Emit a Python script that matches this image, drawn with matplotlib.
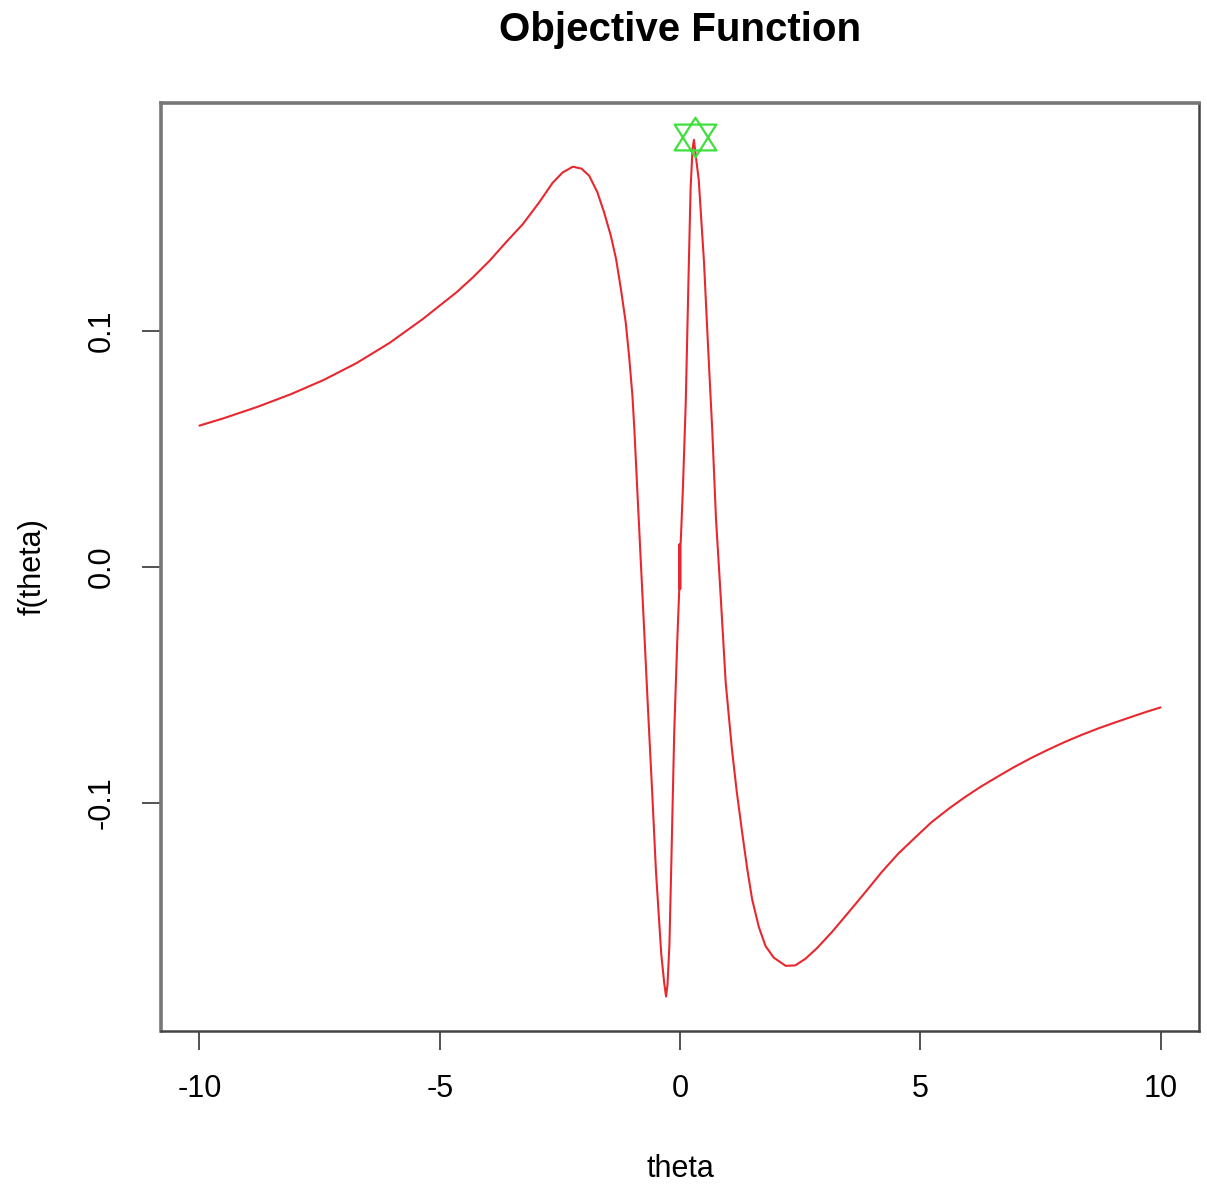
import matplotlib
matplotlib.use("Agg")
import matplotlib.pyplot as plt
from matplotlib.path import Path

# ---- data ----
theta = [-10.0, -9.5, -8.8, -8.1, -7.42, -6.73, -6.04, -5.35, -4.65, -4.31, -3.96,
         -3.62, -3.27, -2.93, -2.65, -2.44, -2.23, -2.05, -1.89, -1.72, -1.58,
         -1.44, -1.33, -1.23, -1.13, -1.06, -0.99, -0.95, -0.88, -0.81, -0.74,
         -0.67, -0.58, -0.50, -0.39, -0.33, -0.29, -0.26, -0.22, -0.18, -0.12,
         -0.06,
         -0.015, -0.01, -0.005, 0.0, 0.005, 0.01, 0.015,
         0.06, 0.12, 0.18, 0.22, 0.26, 0.29, 0.33, 0.39, 0.50, 0.58, 0.67, 0.75,
         0.81, 0.85, 0.95, 1.08, 1.18, 1.29, 1.40, 1.50, 1.64, 1.78, 1.95, 2.20,
         2.40, 2.61, 2.85, 3.16, 3.50, 3.86, 4.20, 4.54, 4.90, 5.23, 5.60, 5.93,
         6.25, 6.62, 6.95, 7.30, 7.65, 8.0, 8.35, 8.69, 9.05, 9.38, 9.70, 10.0]
f_theta = [0.0599, 0.0630, 0.0678, 0.0732, 0.0792, 0.0864, 0.0950, 0.1051, 0.1164,
           0.1227, 0.1298, 0.1376, 0.1453, 0.1545, 0.1628, 0.1672, 0.1696, 0.1688,
           0.1658, 0.1588, 0.1503, 0.1404, 0.1305, 0.1178, 0.1037, 0.0895, 0.0726,
           0.0585, 0.0290, 0.0000, -0.0290, -0.0585, -0.0950, -0.1290, -0.1640,
           -0.1760, -0.1820, -0.1770, -0.1600, -0.1250, -0.0700, -0.0330,
           -0.0093, 0.0097, -0.0093, 0.0097, -0.0093, 0.0097, 0.0105,
           0.0330, 0.0700, 0.1250, 0.1600, 0.1770, 0.1810, 0.1740, 0.1640, 0.1290,
           0.0950, 0.0585, 0.0200, 0.0000, -0.0136, -0.0487, -0.0771, -0.0950,
           -0.1120, -0.1280, -0.1407, -0.1525, -0.1606, -0.1655, -0.1690, -0.1688,
           -0.1660, -0.1615, -0.1547, -0.1465, -0.1377, -0.1292, -0.1215, -0.1145,
           -0.1082, -0.1023, -0.0975, -0.0932, -0.0887, -0.0848, -0.0810, -0.0775,
           -0.0742, -0.0712, -0.0685, -0.0659, -0.0636, -0.0614, -0.0595]
best_theta = [0.31]
best_f = [0.1822]
x_ticks = [-10, -5, 0, 5, 10]
x_tick_labels = ["-10", "-5", "0", "5", "10"]
y_ticks = [-0.1, 0.0, 0.1]
y_tick_labels = ["-0.1", "0.0", "0.1"]

plt.rcParams['font.family'] = ['Liberation Sans Narrow', 'Liberation Sans', 'DejaVu Sans']

W, H, DPI = 1207, 1184, 100
fig = plt.figure(figsize=(W / DPI, H / DPI), dpi=DPI)
ax = fig.add_axes([161 / W, 1 - 1031 / H, (1199 - 161) / W, (1031 - 103) / H])

ax.plot(theta, f_theta, color='#e8282e', lw=1.5, solid_joinstyle='round',
        solid_capstyle='round')

# hexagram marker (R pch = 11)
verts = [(-1, -0.62), (1, -0.62), (0, 0.95), (-1, -0.62),
         (-1, 0.62), (1, 0.62), (0, -0.95), (-1, 0.62)]
codes = [Path.MOVETO, Path.LINETO, Path.LINETO, Path.CLOSEPOLY,
         Path.MOVETO, Path.LINETO, Path.LINETO, Path.CLOSEPOLY]
hexagram = Path(verts, codes)
ax.plot(best_theta, best_f, linestyle='none', marker=hexagram, markersize=30,
        markerfacecolor='none', markeredgecolor='#3ee03e', markeredgewidth=1.6)

ax.set_xlim(-10.8, 10.8)
ax.set_ylim(-0.1966, 0.1966)

ax.set_xticks(x_ticks)
ax.set_xticklabels(x_tick_labels)
ax.set_yticks(y_ticks)
ax.set_yticklabels(y_tick_labels, rotation=90, va='center')
ax.tick_params(axis='both', direction='out', length=14, width=1.2, color='#333333',
               labelsize=22)
ax.tick_params(axis='x', pad=17)
ax.tick_params(axis='y', pad=18)

for side in ['top', 'left']:
    ax.spines[side].set_color('#777777')
    ax.spines[side].set_linewidth(2.6)
for side in ['bottom', 'right']:
    ax.spines[side].set_color('#444444')
    ax.spines[side].set_linewidth(1.8)

ax.set_xlabel('theta', fontsize=22, labelpad=36)
ax.set_ylabel('f(theta)', fontsize=22, labelpad=28)
fig.suptitle('Objective Function', fontsize=29, fontweight='bold', x=680 / W,
             y=1 - 11 / H, va='top')

fig.savefig('out.png', dpi=DPI, facecolor='white')
